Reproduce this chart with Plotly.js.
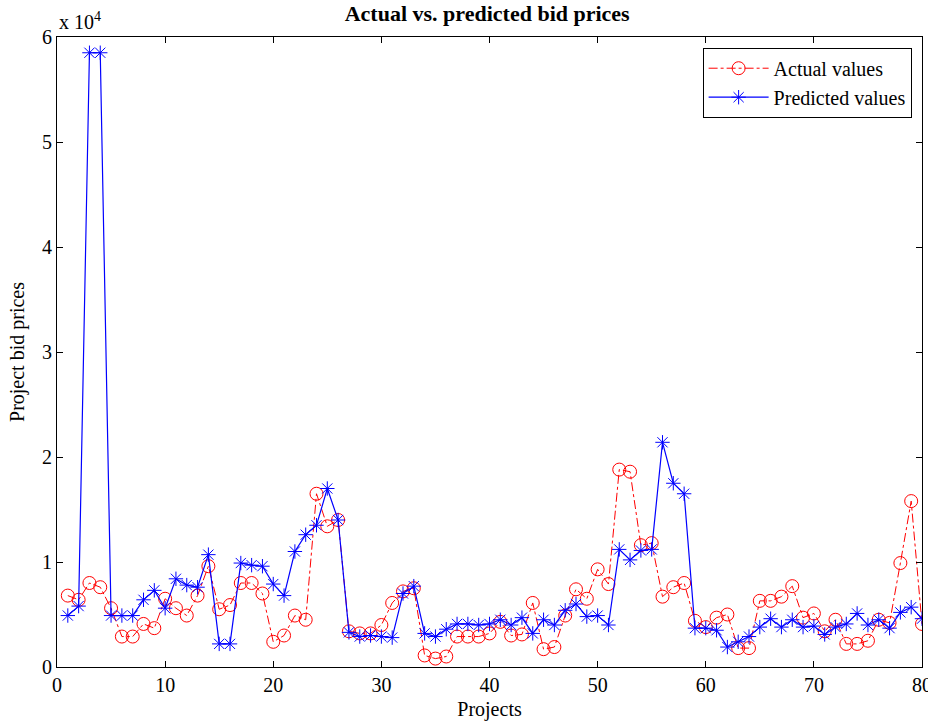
<!DOCTYPE html>
<html>
<head>
<meta charset="utf-8">
<script src="https://cdn.plot.ly/plotly-3.0.1.min.js"></script>
<style>html,body{margin:0;padding:0;background:#fff;}#chart{width:928px;height:724px;}</style>
</head>
<body>
<div id="chart"></div>
<script>
// Project indices
const projects = [];
for (let i = 1; i <= 80; i++) projects.push(i);

// Values in units of 10^4
const actualValues = [
  0.68, 0.64, 0.80, 0.76, 0.56, 0.29, 0.29, 0.41, 0.37, 0.65,
  0.56, 0.49, 0.68, 0.96, 0.55, 0.59, 0.80, 0.80, 0.70, 0.24,
  0.30, 0.49, 0.45, 1.65, 1.34, 1.40, 0.34, 0.32, 0.32, 0.40,
  0.61, 0.72, 0.75, 0.11, 0.08, 0.10, 0.29, 0.29, 0.29, 0.32,
  0.43, 0.30, 0.31, 0.61, 0.17, 0.19, 0.49, 0.74, 0.65, 0.93,
  0.79, 1.88, 1.86, 1.16, 1.18, 0.67, 0.76, 0.80, 0.44, 0.38,
  0.47, 0.50, 0.18, 0.18, 0.63, 0.63, 0.67, 0.77, 0.47, 0.51,
  0.34, 0.45, 0.22, 0.22, 0.25, 0.45, 0.42, 0.99, 1.58, 0.41
];
const predictedValues = [
  0.49, 0.58, 5.85, 5.85, 0.49, 0.49, 0.49, 0.64, 0.73, 0.56,
  0.84, 0.78, 0.76, 1.07, 0.22, 0.22, 0.99, 0.97, 0.96, 0.79,
  0.68, 1.10, 1.26, 1.35, 1.70, 1.40, 0.33, 0.29, 0.30, 0.29,
  0.28, 0.70, 0.77, 0.32, 0.29, 0.36, 0.41, 0.41, 0.40, 0.41,
  0.45, 0.40, 0.47, 0.32, 0.45, 0.40, 0.54, 0.60, 0.48, 0.49,
  0.40, 1.12, 1.02, 1.11, 1.12, 2.14, 1.75, 1.65, 0.37, 0.37,
  0.35, 0.19, 0.24, 0.29, 0.38, 0.46, 0.38, 0.45, 0.38, 0.39,
  0.31, 0.38, 0.41, 0.51, 0.40, 0.45, 0.37, 0.52, 0.57, 0.46
];
const xTicks = [0, 10, 20, 30, 40, 50, 60, 70, 80];
const yTicks = [0, 1, 2, 3, 4, 5, 6];

const fam = 'Liberation Serif, Times New Roman, serif';
const font = {family: fam, size: 20, color: '#000'};

const traces = [
  {
    x: projects, y: actualValues, name: 'Actual values',
    type: 'scatter', mode: 'lines+markers',
    line: {color: '#ff0000', width: 1, dash: 'dashdot'},
    marker: {symbol: 'circle-open', size: 13, color: '#ff0000', line: {width: 1, color: '#ff0000'}}
  },
  {
    x: projects, y: predictedValues, name: 'Predicted values',
    type: 'scatter', mode: 'lines+markers',
    line: {color: '#0000ff', width: 1.2},
    marker: {symbol: 'asterisk-open', size: 12, color: '#0000ff', line: {width: 1, color: '#0000ff'}}
  }
];

const axisCommon = {
  showgrid: false, zeroline: false, showline: true, mirror: 'ticks',
  linecolor: '#000', linewidth: 1, ticks: 'inside', ticklen: 6, tickcolor: '#000',
  tickfont: font
};

const layout = {
  width: 928, height: 724,
  margin: {l: 57, r: 6, t: 37, b: 57},
  paper_bgcolor: '#fff', plot_bgcolor: '#fff',
  font: font,
  title: {text: '<b>Actual vs. predicted bid prices</b>', font: {family: fam, size: 22, color: '#000'}, x: 0.525, xanchor: 'center', y: 0.981, yanchor: 'middle'},
  xaxis: Object.assign({}, axisCommon, {
    range: [0, 80], tickvals: xTicks, ticktext: xTicks.map(String),
    ticklabeloverflow: 'allow',
    title: {text: 'Projects', font: font, standoff: 6}
  }),
  yaxis: Object.assign({}, axisCommon, {
    range: [0, 6], tickvals: yTicks, ticktext: yTicks.map(String),
    title: {text: 'Project bid prices', font: font, standoff: 12}
  }),
  showlegend: true,
  legend: {
    x: 0.988, xanchor: 'right', y: 0.983, yanchor: 'top',
    bordercolor: '#000', borderwidth: 1, bgcolor: '#fff',
    font: font, itemwidth: 60, tracegroupgap: 0
  },
  annotations: [{
    xref: 'paper', yref: 'paper', x: 0, y: 1, xanchor: 'left', yanchor: 'bottom',
    yshift: 2, text: 'x 10<sup>4</sup>', showarrow: false, font: font
  }]
};

Plotly.newPlot('chart', traces, layout, {displayModeBar: false, staticPlot: true});
</script>
</body>
</html>
